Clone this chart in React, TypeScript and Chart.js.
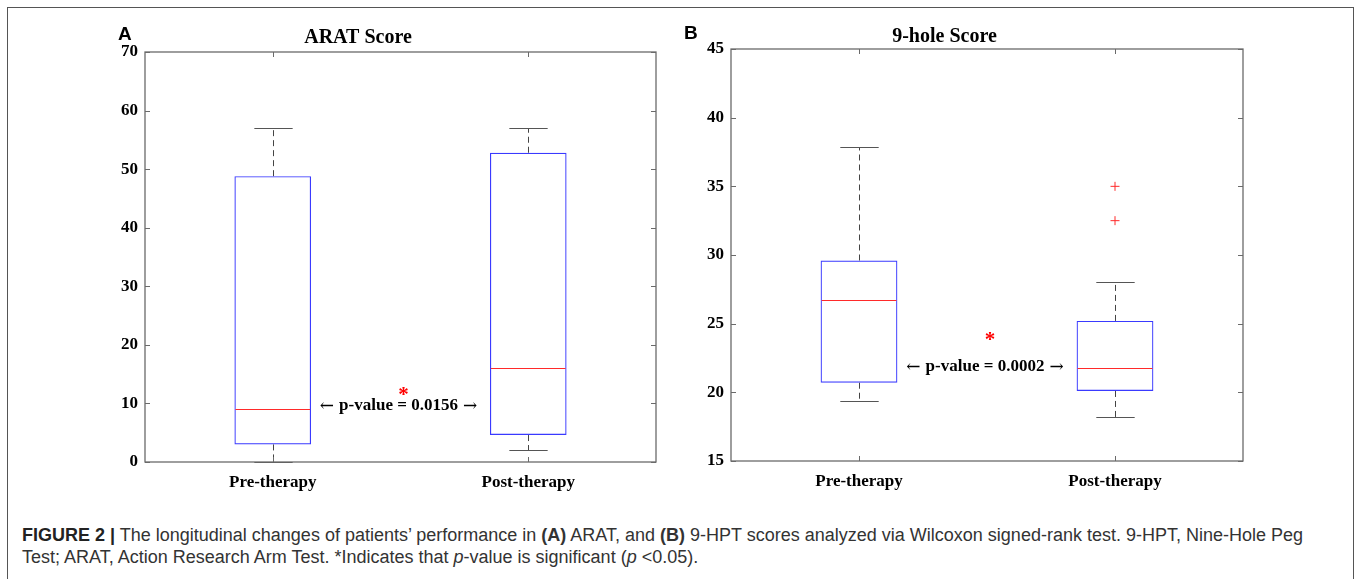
import React, { useEffect, useRef } from 'react';
import { Chart, registerables } from 'chart.js';

Chart.register(...registerables);

// ---------- data ----------
const categories = ['Pre-therapy', 'Post-therapy'];

const aratMin = [0, 2];
const aratQ1 = [3, 4.6];
const aratMedian = [9, 16];
const aratQ3 = [48.8, 52.8];
const aratMax = [57, 57];
const aratOutliers: number[][] = [[], []];
const aratTicks = [0, 70, 10]; // min, max, step

const holeMin = [19.4, 18.2];
const holeQ1 = [20.7, 20.1];
const holeMedian = [26.7, 21.8];
const holeQ3 = [29.6, 25.2];
const holeMax = [37.9, 28];
const holeOutliers: number[][] = [[], [35, 32.5]];
const holeTicks = [15, 45, 5];

const aratSig = { label: 'p-value = 0.0156', labelY: 9.7, starY: 12.1 };
const holeSig = { label: 'p-value = 0.0002', labelY: 21.9, starY: 24.1 };

// ---------- styles ----------
const SERIF = '"Liberation Serif", "Times New Roman", serif';
const SANS = '"Liberation Sans", Arial, Helvetica, sans-serif';
const BOX_BLUE = '#3a3aff';
const MED_RED = '#ff2a2a';
const AXIS_GRAY = '#6a6a6a';

const boxPlugin = {
  id: 'boxplot',
  afterDatasetsDraw(chart: any, _args: any, opts: any) {
    const { ctx, scales } = chart;
    const y = scales.y;
    const meta = chart.getDatasetMeta(0);
    const line = (x1: number, y1: number, x2: number, y2: number) => {
      ctx.beginPath();
      ctx.moveTo(x1, y1);
      ctx.lineTo(x2, y2);
      ctx.stroke();
    };
    ctx.save();
    meta.data.forEach((bar: any, i: number) => {
      const x = Math.round(bar.x) + 0.5;
      const w = bar.width;
      const yMin = Math.round(y.getPixelForValue(opts.mins[i])) + 0.5;
      const yQ1 = y.getPixelForValue(opts.q1s[i]);
      const yMed = Math.round(y.getPixelForValue(opts.medians[i])) + 0.5;
      const yQ3 = y.getPixelForValue(opts.q3s[i]);
      const yMax = Math.round(y.getPixelForValue(opts.maxs[i])) + 0.5;
      ctx.strokeStyle = '#444';
      ctx.lineWidth = 1;
      ctx.setLineDash([6, 4]);
      line(x, yQ3, x, yMax);
      line(x, yQ1, x, yMin);
      ctx.setLineDash([]);
      ctx.strokeStyle = '#555';
      line(x - w / 4, yMax, x + w / 4, yMax);
      line(x - w / 4, yMin, x + w / 4, yMin);
      ctx.strokeStyle = MED_RED;
      line(bar.x - w / 2 + 1, yMed, bar.x + w / 2 - 1, yMed);
    });
    ctx.restore();
  },
};

const framePlugin = {
  id: 'frame',
  afterDraw(chart: any) {
    const { ctx, chartArea: a, scales } = chart;
    ctx.save();
    ctx.strokeStyle = AXIS_GRAY;
    ctx.lineWidth = 1.3;
    ctx.strokeRect(a.left, a.top, a.right - a.left, a.bottom - a.top);
    ctx.lineWidth = 1;
    const tl = 5;
    scales.y.ticks.forEach((t: any) => {
      const py = Math.round(scales.y.getPixelForValue(t.value)) + 0.5;
      ctx.beginPath();
      ctx.moveTo(a.left, py);
      ctx.lineTo(a.left + tl, py);
      ctx.moveTo(a.right, py);
      ctx.lineTo(a.right - tl, py);
      ctx.stroke();
    });
    scales.x.ticks.forEach((_t: any, i: number) => {
      const px = Math.round(scales.x.getPixelForTick(i)) + 0.5;
      ctx.beginPath();
      ctx.moveTo(px, a.bottom);
      ctx.lineTo(px, a.bottom - tl);
      ctx.moveTo(px, a.top);
      ctx.lineTo(px, a.top + tl);
      ctx.stroke();
    });
    ctx.restore();
  },
};

const sigPlugin = {
  id: 'sig',
  afterDraw(chart: any, _args: any, opts: any) {
    const { ctx, chartArea: a, scales } = chart;
    const cx = (a.left + a.right) / 2 - 2;
    const ty = scales.y.getPixelForValue(opts.labelY);
    ctx.save();
    ctx.fillStyle = '#000';
    ctx.textBaseline = 'middle';
    const textFont = `bold 17px ${SERIF}`;
    const arrowFont = `17px "DejaVu Serif", "DejaVu Sans", serif`;
    ctx.font = textFont;
    const tw = ctx.measureText(opts.label).width;
    ctx.font = arrowFont;
    const aw = ctx.measureText('\u2190').width;
    const gap = 5;
    const total = aw + gap + tw + gap + aw;
    let x0 = cx - total / 2;
    ctx.textAlign = 'left';
    ctx.fillText('\u2190', x0, ty + 1);
    ctx.font = textFont;
    ctx.fillText(opts.label, x0 + aw + gap, ty);
    ctx.font = arrowFont;
    ctx.fillText('\u2192', x0 + aw + gap + tw + gap, ty + 1);
    ctx.fillStyle = '#ff0000';
    ctx.font = `bold 21px ${SERIF}`;
    ctx.textAlign = 'center';
    ctx.textBaseline = 'alphabetic';
    ctx.fillText('*', cx + 5, scales.y.getPixelForValue(opts.starY) + 10);
    ctx.restore();
  },
};

function makeConfig(p: any) {
  const outlierPts = p.outliers.flatMap((arr: number[], i: number) =>
    arr.map((v) => ({ x: categories[i], y: v }))
  );
  return {
    type: 'bar',
    data: {
      labels: categories,
      datasets: [
        {
          type: 'bar',
          data: p.q1s.map((q: number, i: number) => [q, p.q3s[i]]),
          backgroundColor: 'rgba(0,0,0,0)',
          borderColor: BOX_BLUE,
          borderWidth: 1.2,
          borderSkipped: false,
          barPercentage: 0.3,
          categoryPercentage: 1,
        },
        {
          type: 'scatter',
          data: outlierPts,
          pointStyle: 'cross',
          radius: 4.5,
          borderColor: MED_RED,
          backgroundColor: MED_RED,
          borderWidth: 1,
        },
      ],
    },
    options: {
      animation: false,
      responsive: false,
      events: [],
      layout: { padding: { left: 0, right: p.padRight, top: 0, bottom: 0 } },
      plugins: {
        legend: { display: false },
        tooltip: { enabled: false },
        title: {
          display: true,
          text: p.title,
          color: '#000',
          font: { family: SERIF, size: 20, weight: 'bold' },
          padding: { top: p.titleTop, bottom: p.titleBottom },
        },
        boxplot: { mins: p.mins, q1s: p.q1s, medians: p.medians, q3s: p.q3s, maxs: p.maxs },
        sig: p.sig,
      },
      scales: {
        x: {
          type: 'category',
          offset: true,
          grid: { display: false, drawTicks: false },
          border: { display: false },
          ticks: { color: '#000', font: { family: SERIF, size: 17, weight: 'bold' }, padding: 10, maxRotation: 0 },
          afterFit: (s: any) => {
            s.height = p.xHeight;
          },
        },
        y: {
          type: 'linear',
          min: p.ticks[0],
          max: p.ticks[1],
          grid: { display: false, drawTicks: false },
          border: { display: false },
          ticks: { stepSize: p.ticks[2], color: '#000', font: { family: SERIF, size: 17, weight: 'bold' }, padding: 7 },
          afterFit: (s: any) => {
            s.width = p.yWidth;
          },
        },
      },
    },
    plugins: [boxPlugin, framePlugin, sigPlugin],
  };
}

function BoxChart(props: { left: number; top: number; width: number; height: number; cfg: any }) {
  const ref = useRef<HTMLCanvasElement>(null);
  useEffect(() => {
    const chart = new Chart(ref.current as HTMLCanvasElement, makeConfig(props.cfg) as any);
    return () => chart.destroy();
  }, []);
  return (
    <canvas
      ref={ref}
      width={props.width}
      height={props.height}
      style={{ position: 'absolute', left: props.left, top: props.top, width: props.width, height: props.height }}
    />
  );
}

export default function App() {
  const aratCfg = {
    title: 'ARAT Score',
    mins: aratMin, q1s: aratQ1, medians: aratMedian, q3s: aratQ3, maxs: aratMax, outliers: aratOutliers,
    ticks: aratTicks, sig: aratSig,
    yWidth: 85, xHeight: 38, padRight: 14, titleTop: 26, titleBottom: 2,
  };
  const holeCfg = {
    title: '9-hole Score',
    mins: holeMin, q1s: holeQ1, medians: holeMedian, q3s: holeQ3, maxs: holeMax, outliers: holeOutliers,
    ticks: holeTicks, sig: holeSig,
    yWidth: 85, xHeight: 39, padRight: 14, titleTop: 25, titleBottom: 0,
  };
  return (
    <div style={{ position: 'fixed', left: 0, top: 0, width: 1357, height: 579, overflow: 'hidden', background: '#fff' }}>
      <div
        style={{
          position: 'absolute', left: 7, top: 7, width: 1347, height: 640,
          border: '1.5px solid #555', boxSizing: 'border-box',
        }}
      />
      <BoxChart left={60} top={0} width={610} height={500} cfg={aratCfg} />
      <BoxChart left={646} top={0} width={611} height={500} cfg={holeCfg} />
      <div style={{ position: 'absolute', left: 118, top: 24, font: `bold 19px ${SANS}`, lineHeight: '19px', color: '#000' }}>A</div>
      <div style={{ position: 'absolute', left: 684, top: 23, font: `bold 19px ${SANS}`, lineHeight: '19px', color: '#000' }}>B</div>
      <div
        style={{
          position: 'absolute', left: 22, top: 524, fontFamily: SANS, fontSize: 18, lineHeight: '22px',
          color: '#333', whiteSpace: 'nowrap',
        }}
      >
        <b style={{ color: '#222' }}>FIGURE 2 |</b> The longitudinal changes of patients’ performance in <b>(A)</b> ARAT, and{' '}
        <b>(B)</b> 9-HPT scores analyzed via Wilcoxon signed-rank test. 9-HPT, Nine-Hole Peg
        <br />
        Test; ARAT, Action Research Arm Test. *Indicates that <i>p</i>-value is significant (<i>p</i> &lt;0.05).
      </div>
    </div>
  );
}
